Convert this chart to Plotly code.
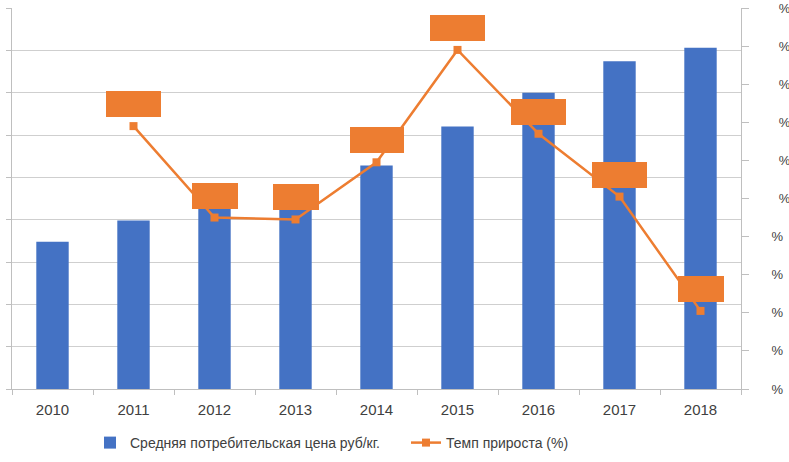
import plotly.graph_objects as go

years = ["2010", "2011", "2012", "2013", "2014", "2015", "2016", "2017", "2018"]
price = [174, 199, 216, 214, 264, 310, 350, 387, 403]
growth_years = ["2011", "2012", "2013", "2014", "2015", "2016", "2017", "2018"]
growth = [13.8, 9.0, 8.9, 11.9, 17.8, 13.4, 10.1, 4.1]
right_ticks = [0, 2, 4, 6, 8, 10, 12, 14, 16, 18, 20]

BLUE = "#4472C4"
ORANGE = "#ED7D31"
TXT = "#404040"
GRID = "#cfcfcf"
FONT = "Liberation Sans"

fig = go.Figure()
fig.add_trace(go.Bar(
    x=years, y=price, name="Средняя потребительская цена руб/кг.",
    marker=dict(color=BLUE, line=dict(width=0)), yaxis="y",
))
fig.add_trace(go.Scatter(
    x=growth_years, y=growth, name="Темп прироста (%)", yaxis="y2",
    mode="lines+markers",
    line=dict(color=ORANGE, width=2.5),
    marker=dict(symbol="square", size=8, color=ORANGE),
))

def fmt(v):
    return f"{v:.1f}".replace(".", ",") + "%"

for x, v in zip(growth_years, growth):
    fig.add_annotation(
        x=years.index(x), y=v, xref="x", yref="y2", text=fmt(v), showarrow=False,
        yshift=22, bgcolor=ORANGE, borderpad=5, borderwidth=0, height=16,
        font=dict(family=FONT, size=16, color=ORANGE),
    )

def rlabel(t):
    s = f"{t}%"
    pad = "\u00a0\u00a0" if len(s) > 2 else ""
    return pad + "%"

fig.update_layout(
    width=789, height=462,
    margin=dict(l=12, r=48, t=8, b=73, autoexpand=False),
    paper_bgcolor="white", plot_bgcolor="white",
    font=dict(family=FONT, size=14, color=TXT),
    bargap=0.6,
    showlegend=True,
    legend=dict(orientation="h", x=0.107, xanchor="left",
                yref="container", y=1 - 443 / 462, yanchor="middle",
                entrywidth=271, entrywidthmode="pixels",
                font=dict(family=FONT, size=14, color=TXT), itemclick=False),
    xaxis=dict(type="category", range=[-0.5, 8.5], autorange=False, automargin=False,
               showline=True, linecolor="#bfbfbf", linewidth=1,
               ticks="outside", tickson="boundaries", ticklen=5, tickcolor="#bfbfbf",
               showgrid=False, tickangle=0, ticklabelstandoff=7,
               tickfont=dict(size=15, color=TXT)),
    yaxis=dict(range=[0, 450], dtick=50, showgrid=True, gridcolor=GRID, gridwidth=1,
               automargin=False,
               showline=True, linecolor="#bfbfbf", ticks="outside", ticklen=5,
               tickcolor="#bfbfbf", showticklabels=False, zeroline=False),
    yaxis2=dict(range=[0, 20], overlaying="y", side="right", tickvals=right_ticks,
                ticktext=[rlabel(t) for t in right_ticks], showgrid=False,
                automargin=False, ticklabeloverflow="allow",
                showline=True, linecolor="#bfbfbf", ticks="outside", ticklen=7,
                tickcolor="#bfbfbf", zeroline=False, ticklabelstandoff=20,
                tickfont=dict(size=13, color=TXT)),
)

fig.write_html(
    "out.html",
    config={"displayModeBar": False},
    post_script="document.body.style.margin='0';document.body.style.overflow='hidden';",
)
